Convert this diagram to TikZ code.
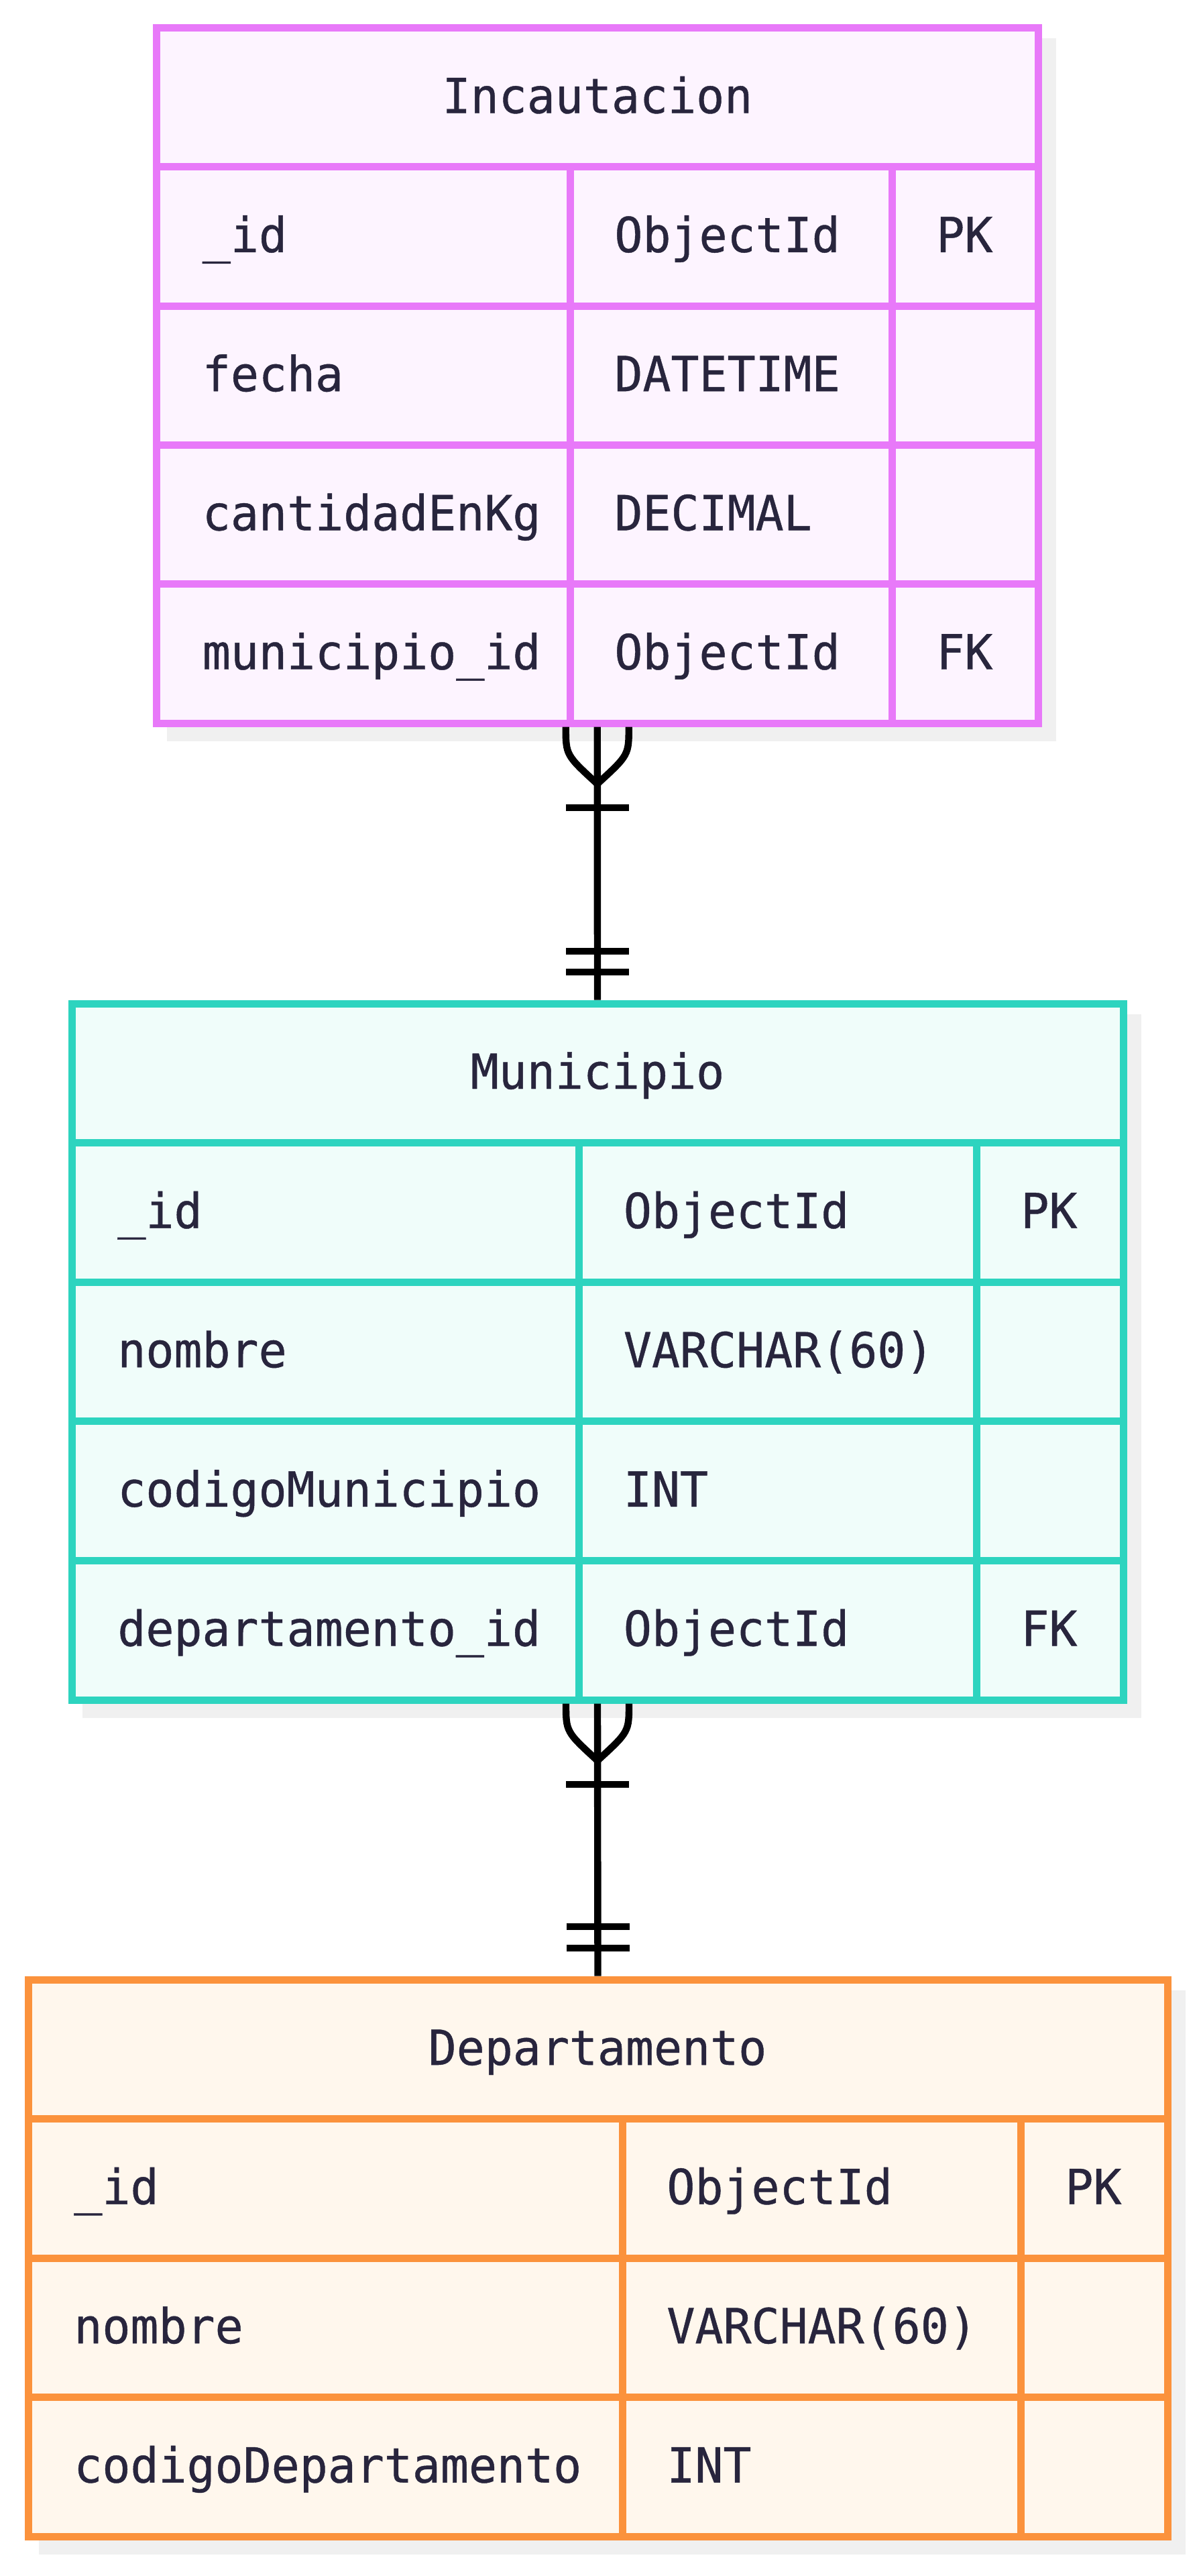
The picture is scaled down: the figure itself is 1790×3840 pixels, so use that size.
\documentclass[tikz,border=0pt]{standalone}
\usepackage{fontspec}
\newfontfamily\tblfam[FakeStretch=0.97,FakeBold=0.6]{DejaVu Sans Mono}
\newcommand\tblf{\tblfam\fontsize{36}{43}\selectfont}
\usetikzlibrary{calc}
\definecolor{pinkb}{HTML}{E879F9}
\definecolor{pinkf}{HTML}{FDF4FF}
\definecolor{tealb}{HTML}{2DD4BF}
\definecolor{tealf}{HTML}{F0FDFA}
\definecolor{orab}{HTML}{FB923C}
\definecolor{oraf}{HTML}{FFF7ED}
\definecolor{shad}{HTML}{F0F0F0}
\definecolor{txt}{HTML}{28253D}
\begin{document}
\begin{tikzpicture}[x=0.5pt,y=-0.5pt,
  tbl/.style={draw=#1, line width=5.5pt, inner sep=0pt, anchor=north west},
  tline/.style={draw=#1, line width=5.5pt},
  cell/.style={anchor=base west, inner sep=0pt, text=txt, font=\tblf},
  head/.style={anchor=base, inner sep=0pt, text=txt, font=\tblf},
  shadowbox/.style={fill=shad},
  rel/.style={draw=black, line width=5.2pt},
]
\fill[white] (0,0) rectangle (1790,3840);
\useasboundingbox (0,0) rectangle (1790,3840);

% shadows
\fill[shadowbox] (249,57) rectangle (1574.5,1104.5);
\fill[shadowbox] (122.5,1511.5) rectangle (1701.5,2560.5);
\fill[shadowbox] (57.5,2966.5) rectangle (1767.5,3807.5);

% ---------- Incautacion ----------
\node[tbl=pinkb, fill=pinkf, minimum width=657.25pt, minimum height=518.25pt] (t1) at (228,36) {};
\foreach \y in {248.8,456.1,663.4,870.7} \draw[tline=pinkb] (233.5,\y) -- (1548,\y);
\foreach \x in {850,1330} \draw[tline=pinkb] (\x,248.8) -- (\x,1078);
\node[head] (t1h) at (891,168.5) {Incautacion};
\node[cell] (t1a1) at (301.5,375.8) {\_id};
\node[cell] (t1a2) at (916,375.8) {ObjectId};
\node[cell] (t1a3) at (1396,375.8) {PK};
\node[cell] (t1b1) at (301.5,583.1) {fecha};
\node[cell] (t1b2) at (916,583.1) {DATETIME};
\node[cell] (t1c1) at (301.5,790.4) {cantidadEnKg};
\node[cell] (t1c2) at (916,790.4) {DECIMAL};
\node[cell] (t1d1) at (301.5,997.7) {municipio\_id};
\node[cell] (t1d2) at (916,997.7) {ObjectId};
\node[cell] (t1d3) at (1396,997.7) {FK};

% ---------- Municipio ----------
\node[tbl=tealb, fill=tealf, minimum width=784pt, minimum height=519pt] (t2) at (101.5,1490.5) {};
\foreach \y in {1703.6,1911.2,2118.8,2326.4} \draw[tline=tealb] (107,\y) -- (1675,\y);
\foreach \x in {863.5,1456} \draw[tline=tealb] (\x,1703.6) -- (\x,2534);
\node[head] (t2h) at (891,1623) {Municipio};
\node[cell] (t2a1) at (175,1830.6) {\_id};
\node[cell] (t2a2) at (929.5,1830.6) {ObjectId};
\node[cell] (t2a3) at (1522,1830.6) {PK};
\node[cell] (t2b1) at (175,2038.2) {nombre};
\node[cell] (t2b2) at (929.5,2038.2) {VARCHAR(60)};
\node[cell] (t2c1) at (175,2245.8) {codigoMunicipio};
\node[cell] (t2c2) at (929.5,2245.8) {INT};
\node[cell] (t2d1) at (175,2453.4) {departamento\_id};
\node[cell] (t2d2) at (929.5,2453.4) {ObjectId};
\node[cell] (t2d3) at (1522,2453.4) {FK};

% ---------- Departamento ----------
\node[tbl=orab, fill=oraf, minimum width=849.5pt, minimum height=415pt] (t3) at (36.5,2945.5) {};
\foreach \y in {3158.5,3366,3573.5} \draw[tline=orab] (42,\y) -- (1741,\y);
\foreach \x in {928,1522} \draw[tline=orab] (\x,3158.5) -- (\x,3781);
\node[head] (t3h) at (891,3078) {Departamento};
\node[cell] (t3a1) at (110,3285.5) {\_id};
\node[cell] (t3a2) at (994,3285.5) {ObjectId};
\node[cell] (t3a3) at (1588,3285.5) {PK};
\node[cell] (t3b1) at (110,3493) {nombre};
\node[cell] (t3b2) at (994,3493) {VARCHAR(60)};
\node[cell] (t3c1) at (110,3700.5) {codigoDepartamento};
\node[cell] (t3c2) at (994,3700.5) {INT};

% ---------- relations ----------
\draw[rel] (t1.south) -- (t2.north);
\draw[rel] ($(t1.south)+(-47,0)$) .. controls ($(t1.south)+(-47,42)$) .. ($(t1.south)+(0,85)$)
           .. controls ($(t1.south)+(47,42)$) .. ($(t1.south)+(47,0)$);
\draw[rel] ($(t1.south)+(-47,120.5)$) -- ($(t1.south)+(47,120.5)$);
\draw[rel] ($(t2.north)+(-47,-72.5)$) -- ($(t2.north)+(47,-72.5)$);
\draw[rel] ($(t2.north)+(-47,-41.5)$) -- ($(t2.north)+(47,-41.5)$);

\draw[rel] (t2.south) -- (t3.north);
\draw[rel] ($(t2.south)+(-47,0)$) .. controls ($(t2.south)+(-47,42)$) .. ($(t2.south)+(0,85)$)
           .. controls ($(t2.south)+(47,42)$) .. ($(t2.south)+(47,0)$);
\draw[rel] ($(t2.south)+(-47,120.5)$) -- ($(t2.south)+(47,120.5)$);
\draw[rel] ($(t3.north)+(-47,-73.5)$) -- ($(t3.north)+(47,-73.5)$);
\draw[rel] ($(t3.north)+(-47,-41.5)$) -- ($(t3.north)+(47,-41.5)$);
\end{tikzpicture}
\end{document}
